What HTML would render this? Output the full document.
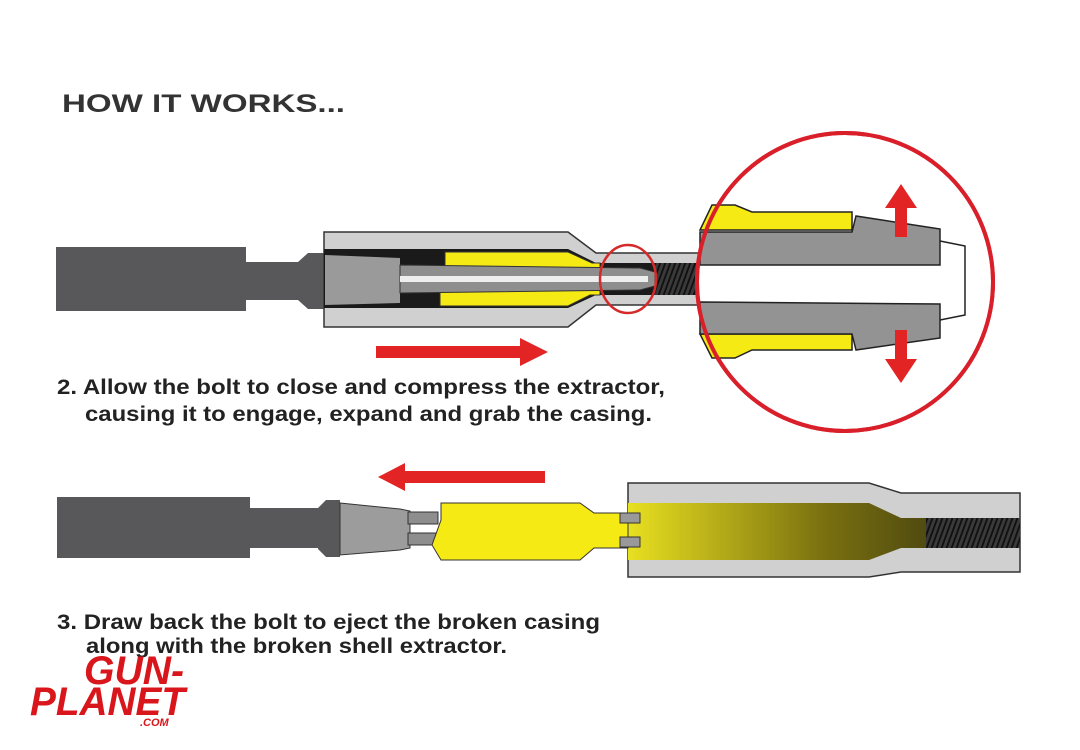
<!DOCTYPE html>
<html><head><meta charset="utf-8"><style>
html,body{margin:0;padding:0;background:#fff;}
svg{display:block;}
text{font-family:"Liberation Sans",Arial,sans-serif;font-weight:bold;}
</style></head><body>
<svg width="1080" height="750" viewBox="0 0 1080 750" xmlns="http://www.w3.org/2000/svg">
<defs>
<pattern id="thr" width="5" height="8" patternUnits="userSpaceOnUse" patternTransform="skewX(-20)">
<rect width="5" height="8" fill="#3a3a3a"/><rect width="2" height="8" fill="#111"/></pattern>
<linearGradient id="fade" x1="0" x2="1">
<stop offset="0" stop-color="#e8e020"/><stop offset="0.5" stop-color="#7a7010"/><stop offset="1" stop-color="#2a2a10"/></linearGradient>
</defs>
<text x="62" y="112" font-size="25" fill="#333" textLength="283" lengthAdjust="spacingAndGlyphs">HOW IT WORKS...</text>

<!-- TOP DIAGRAM -->
<rect x="56" y="247" width="190" height="64" fill="#58585a"/>
<rect x="245" y="262" width="55" height="38" fill="#58585a"/>
<polygon points="298,262 308,253 325,253 325,309 308,309 298,300" fill="#58585a"/>
<polygon points="324,232 568,232 596,253 720,253 720,305 596,305 568,327 324,327" fill="#d0d0d0" stroke="#333" stroke-width="1.5"/>
<polygon points="324,249 568,249 596,263 720,263 720,295 596,295 568,308 324,308" fill="#1a1a1a"/>
<rect x="655" y="263" width="45" height="32" fill="url(#thr)"/>
<polygon points="445,252 568,252 592,263 600,263 600,268 445,266" fill="#f5ea14" stroke="#333"/>
<polygon points="440,292 600,290 600,295 590,295 568,306 440,306" fill="#f5ea14" stroke="#333"/>
<polygon points="325,255 400,258 400,303 325,305" fill="#9a9a9a"/>
<polygon points="400,265 640,268 655,272 655,286 640,290 400,293" fill="#8e8e8e" stroke="#333"/>
<rect x="400" y="276" width="248" height="6" fill="#eee"/>
<ellipse cx="628" cy="279" rx="28" ry="34" fill="none" stroke="#d42a2a" stroke-width="2.5"/>
<polygon points="376,346 520,346 520,338 548,352 520,366 520,358 376,358" fill="#e32424"/>

<!-- big circle -->
<ellipse cx="845" cy="282" rx="148" ry="149" fill="#fff" stroke="#d9202a" stroke-width="4"/>
<polygon points="712,205 735,205 752,212 852,212 852,230 700,230" fill="#f5ea14" stroke="#222" stroke-width="1.5"/>
<polygon points="700,232 852,232 856,216 940,229 940,265 700,265" fill="#939393" stroke="#222" stroke-width="1.5"/>
<polygon points="712,358 735,358 752,350 852,350 852,334 700,334" fill="#f5ea14" stroke="#222" stroke-width="1.5"/>
<polygon points="700,302 940,304 940,338 856,350 852,334 700,334" fill="#939393" stroke="#222" stroke-width="1.5"/>
<polyline points="940,241 965,246 965,315 940,320" fill="none" stroke="#222" stroke-width="1.5"/>
<polygon points="901,184 917,208 907,208 907,237 895,237 895,208 885,208" fill="#e32424"/>
<polygon points="901,383 917,359 907,359 907,330 895,330 895,359 885,359" fill="#e32424"/>
<ellipse cx="845" cy="282" rx="148" ry="149" fill="none" stroke="#d9202a" stroke-width="4"/>

<text x="57" y="394" font-size="21" fill="#222" textLength="608" lengthAdjust="spacingAndGlyphs">2. Allow the bolt to close and compress the extractor,</text>
<text x="85" y="421" font-size="21" fill="#222" textLength="567" lengthAdjust="spacingAndGlyphs">causing it to engage, expand and grab the casing.</text>

<!-- BOTTOM DIAGRAM -->
<polygon points="545,471 405,471 405,463 378,477 405,491 405,483 545,483" fill="#e32424"/>
<rect x="57" y="497" width="193" height="61" fill="#58585a"/>
<rect x="248" y="508" width="70" height="40" fill="#58585a"/>
<polygon points="318,508 326,500 340,500 340,557 326,557 318,549" fill="#58585a"/>
<polygon points="340,503 400,509 410,511 410,548 400,550 340,555" fill="#9c9c9c" stroke="#333"/>
<rect x="408" y="512" width="30" height="12" fill="#8e8e8e" stroke="#333"/>
<rect x="408" y="533" width="30" height="12" fill="#8e8e8e" stroke="#333"/>
<polygon points="628,483 869,483 901,493 1020,493 1020,572 901,572 869,577 628,577" fill="#d0d0d0" stroke="#333" stroke-width="1.5"/>
<polygon points="628,503 869,503 901,518 1020,518 1020,548 901,548 869,560 628,560" fill="url(#fade)"/>
<rect x="926" y="518" width="94" height="30" fill="url(#thr)"/>
<polygon points="441,503 580,503 594,513 628,513 628,548 594,548 580,560 441,560 432,545 441,520" fill="#f5ea14" stroke="#333"/>
<rect x="620" y="513" width="20" height="10" fill="#999" stroke="#333"/>
<rect x="620" y="537" width="20" height="10" fill="#999" stroke="#333"/>

<text x="57" y="629" font-size="21" fill="#222" textLength="543" lengthAdjust="spacingAndGlyphs">3. Draw back the bolt to eject the broken casing</text>
<text x="86" y="653" font-size="21" fill="#222" textLength="421" lengthAdjust="spacingAndGlyphs">along with the broken shell extractor.</text>

<!-- logo -->
<g fill="#d8161b" font-style="italic">
<text x="84" y="684" font-size="40" textLength="100" lengthAdjust="spacingAndGlyphs">GUN-</text>
<text x="30" y="715" font-size="40" textLength="155" lengthAdjust="spacingAndGlyphs">PLANET</text>
<text x="140" y="726" font-size="11">.COM</text>
</g>
</svg>
</body></html>
